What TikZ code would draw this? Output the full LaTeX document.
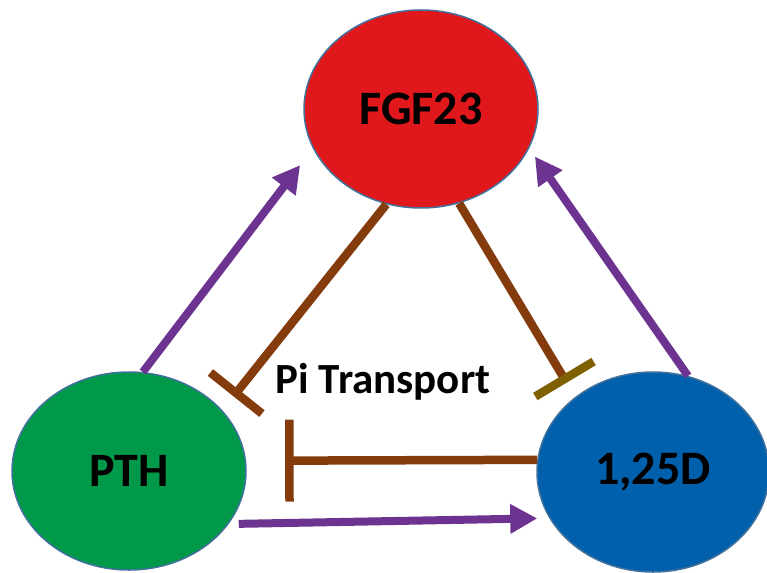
\documentclass[tikz,border=0pt]{standalone}
\usepackage{fontspec}
\setmainfont{Carlito}
\usetikzlibrary{shapes.geometric,arrows.meta}
\definecolor{fgfred}{HTML}{E0181C}
\definecolor{pthgreen}{HTML}{00994A}
\definecolor{dblue}{HTML}{0060AC}
\definecolor{edgeblue}{HTML}{41719C}
\definecolor{arrowpurple}{HTML}{6C3391}
\definecolor{inhbrown}{HTML}{843C0C}
\definecolor{olivebar}{HTML}{7F6000}
\tikzset{
  hormone/.style={ellipse, draw=edgeblue, line width=1.5pt, inner sep=0pt,
    font=\bfseries\fontsize{48}{56}\selectfont, text=black},
  pilabel/.style={inner sep=0pt, font=\bfseries\fontsize{43}{52}\selectfont, text=black},
  act/.style={draw=arrowpurple, line width=8pt, -{Triangle[width=28pt,length=27pt]}},
  inh/.style={draw=inhbrown, line width=8.5pt, -{Bar[width=66pt]}}
}
\begin{document}
\begin{tikzpicture}[x=1pt,y=-1pt]
\useasboundingbox (0,0) rectangle (767,572);
\node[hormone, fill=fgfred, minimum width=234pt, minimum height=198pt] (fgf) at (421,109) {FGF23};
\node[hormone, fill=pthgreen, minimum width=234pt, minimum height=198pt] (pth) at (129,471) {PTH};
\node[hormone, fill=dblue, minimum width=232pt, minimum height=200pt] (vitd) at (653,472) {1,25D};
\node[pilabel] (pi) at (383,382) {Pi Transport};
% activation arrows
\draw[act, shorten >=21pt] (pth.82) -- (fgf.200);
\draw[act, shorten >=10pt] (vitd.70) -- (fgf.340);
\draw[act, shorten <=10pt, shorten >=12pt] (pth.332) -- (vitd.204);
% inhibition
\draw[inh, shorten >=17.8pt] (fgf.250) -- (pth.33.6);
\draw[inh, -{Bar[width=68pt,color=olivebar]}, shorten >=16.6pt] (fgf.292) -- (vitd.136);
\draw[inh, -{Bar[width=82pt]}, shorten >=39pt] (vitd.174) -- (pth.5.4);
\end{tikzpicture}
\end{document}
